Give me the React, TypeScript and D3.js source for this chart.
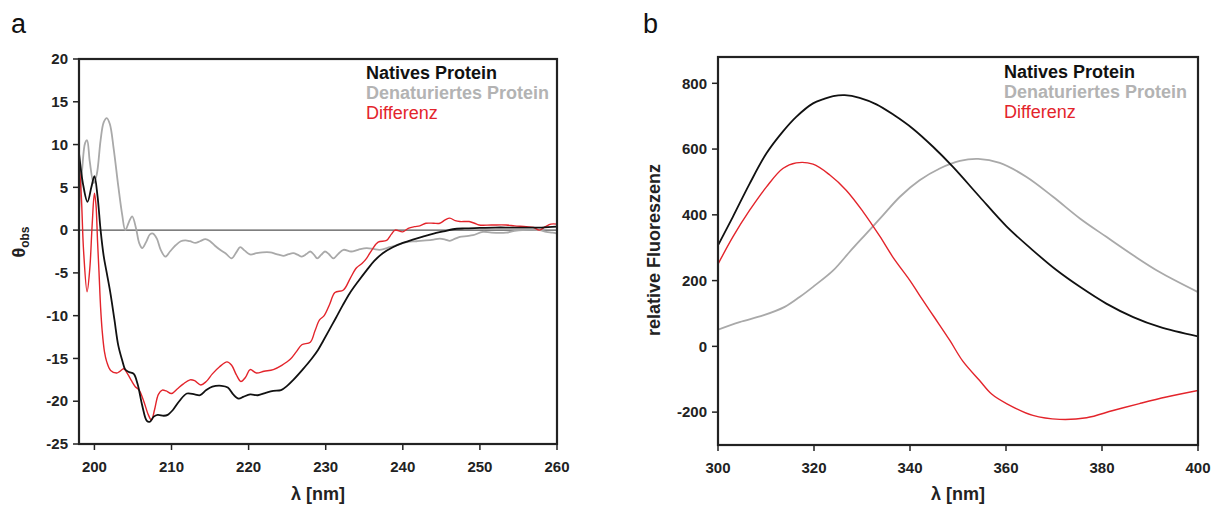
import React from "react";
import * as d3 from "d3";

// ---------- Data: CD spectrum (panel a) ----------
const cdNative: [number, number][] = [
  [198, 9.0], [198.5, 5.5], [199.1, 3.3], [199.6, 5.0], [200.0, 6.3], [200.4, 4.0], [200.8, 0], [201.2, -3.0],
  [201.6, -5.0], [202.1, -7.5], [202.6, -10.5], [203.1, -13.5], [203.6, -15.2], [204.0, -16.3], [204.5, -16.6],
  [205.1, -16.8], [205.6, -18.0], [206.2, -20.5], [206.8, -22.3], [207.2, -22.4], [207.7, -21.8], [208.2, -21.6],
  [209.0, -21.7], [209.5, -21.6], [210.2, -21.0], [211.0, -20.0], [212.0, -19.1], [213.0, -19.2], [213.7, -19.3],
  [214.5, -18.7], [215.3, -18.3], [216.5, -18.2], [217.3, -18.4], [218.0, -19.2], [218.7, -19.7], [219.3, -19.5],
  [220.2, -19.2], [221.2, -19.3], [222.3, -19.0], [223.2, -18.8], [224.2, -18.7], [225.0, -18.2], [225.8, -17.5],
  [227.0, -16.3], [228.2, -15.0], [229.0, -14.0], [229.7, -12.9], [230.5, -11.6], [231.3, -10.3], [232.2, -8.8],
  [233.1, -7.4], [234.2, -6.0], [235.3, -4.7], [236.3, -3.6], [237.4, -2.7], [238.7, -2.0], [240.0, -1.5],
  [241.3, -1.1], [242.6, -0.75], [244.0, -0.4], [245.3, -0.15], [246.5, 0.1], [248, 0.2], [250, 0.25], [252, 0.3],
  [254, 0.3], [256, 0.3], [258, 0.3], [260, 0.4],
];

const cdDenatured: [number, number][] = [
  [198, 2.0], [198.4, 7.0], [198.8, 10.2], [199.05, 10.5], [199.4, 8.0], [199.9, 5.5], [200.3, 6.5], [200.8, 10.5],
  [201.2, 12.6], [201.6, 13.1], [202.0, 12.4], [202.5, 9.5], [203.1, 5.1], [203.6, 1.8], [204.0, 0.0], [204.5, 1.0],
  [204.9, 1.6], [205.4, 0.2], [205.8, -1.5], [206.2, -2.1], [206.7, -1.4], [207.2, -0.5], [207.6, -0.4], [208.1, -1.0],
  [208.6, -2.3], [209.2, -3.1], [209.8, -2.5], [210.5, -1.8], [211.2, -1.3], [211.8, -1.2], [212.4, -1.3], [213.1, -1.5],
  [213.7, -1.3], [214.4, -1.05], [215.0, -1.3], [215.6, -1.8], [216.3, -2.3], [217.0, -2.7], [217.8, -3.3], [218.4, -2.6],
  [218.9, -2.0], [219.5, -2.4], [220.2, -2.85], [221.0, -2.7], [221.8, -2.6], [222.8, -2.6], [223.6, -2.8], [224.5, -3.0],
  [225.2, -2.8], [225.8, -2.7], [226.4, -2.9], [226.9, -3.1], [227.5, -2.8], [228.0, -2.5], [228.5, -2.9], [228.9, -3.3],
  [229.4, -2.9], [229.9, -2.5], [230.4, -2.8], [231.0, -3.3], [231.6, -2.8], [232.3, -2.3], [233.3, -2.5], [234.2, -2.3],
  [235.3, -2.1], [236.2, -2.2], [237.0, -2.3], [238.3, -2.0], [239.4, -1.7], [240.5, -1.4], [241.8, -1.3], [243.0, -1.2],
  [244.0, -1.1], [244.8, -1.0], [245.5, -1.1], [246.1, -1.25], [246.8, -1.0], [247.4, -0.8], [248.3, -0.7], [249.1, -0.6],
  [250.4, -0.2], [251.5, -0.3], [253.4, -0.3], [254.5, -0.1], [255.5, 0.0], [257.7, 0.0], [258.6, -0.2], [259.4, -0.3],
  [260, -0.4],
];

const cdDifference: [number, number][] = [
  [198, 8.0], [198.3, 4.0], [198.6, -2.5], [199.05, -7.2], [199.4, -4.5], [199.7, 0.5], [200.0, 4.3], [200.2, 3.0],
  [200.4, -1.2], [200.6, -5.0], [200.8, -9.0], [201.0, -11.7], [201.3, -14.2], [201.6, -15.4], [202.1, -16.4],
  [202.9, -16.7], [203.3, -16.5], [203.8, -16.2], [204.3, -16.8], [204.8, -17.6], [205.3, -18.3], [205.8, -18.7],
  [206.4, -20.0], [207.0, -21.6], [207.4, -22.2], [207.8, -21.0], [208.3, -19.2], [208.8, -18.7], [209.3, -18.8],
  [210.0, -19.1], [210.7, -18.6], [211.5, -18.0], [212.4, -17.5], [213.0, -17.6], [213.8, -18.1], [214.5, -17.7],
  [215.3, -16.8], [216.2, -16.0], [217.2, -15.4], [217.8, -15.8], [218.4, -16.9], [219.0, -17.7], [219.6, -17.2],
  [220.2, -16.3], [221.0, -16.7], [222.0, -16.5], [223.2, -16.3], [224.3, -15.8], [225.4, -15.1], [226.2, -14.2],
  [226.9, -13.4], [228.0, -13.1], [228.6, -11.8], [229.2, -10.5], [229.8, -10.0], [230.5, -8.7], [231.2, -7.3],
  [232.3, -7.0], [233.2, -5.6], [234.0, -4.4], [234.7, -3.9], [235.3, -3.3], [236.0, -2.3], [236.8, -1.4],
  [237.9, -1.2], [238.5, -0.5], [239.0, 0.0], [240.0, -0.2], [240.7, 0.2], [241.5, 0.4], [242.2, 0.5], [243.0, 0.8],
  [244.0, 0.8], [244.8, 0.8], [245.5, 1.2], [246.1, 1.4], [246.8, 1.1], [247.4, 1.0], [248.6, 1.0], [249.3, 0.8],
  [249.9, 0.6], [251.5, 0.6], [253.4, 0.6], [254.5, 0.5], [256, 0.4], [257, 0.3], [257.7, 0.0], [258.5, 0.4],
  [259.2, 0.7], [260, 0.7],
];

// ---------- Data: fluorescence spectrum (panel b) ----------
const flNative: [number, number][] = [
  [300, 307], [303.1, 394], [306.6, 495], [310.1, 587], [313.5, 653], [316.3, 698], [319.8, 739], [322, 752],
  [324, 761], [326.4, 764], [329.5, 756], [333, 736], [336.5, 705], [340.6, 662], [344.8, 607], [349, 545],
  [354.5, 455], [360.1, 365], [365.6, 292], [370.5, 232], [375.4, 181], [380.9, 130], [386.5, 89], [392, 59],
  [400, 30],
];

const flDenatured: [number, number][] = [
  [300, 51], [304.5, 74], [309.4, 94], [313.9, 120], [317, 150], [319.8, 181], [324, 231], [327.4, 287],
  [330.9, 343], [334.4, 399], [337.9, 455], [342, 505], [346.2, 541], [350.4, 564], [354.2, 570], [358.7, 558],
  [364.2, 516], [369.8, 455], [375.4, 389], [380.9, 333], [386.5, 277], [392, 226], [400, 165],
];

const flDifference: [number, number][] = [
  [300, 250], [303.1, 333], [306.6, 414], [310.1, 485], [313.5, 541], [316.3, 558], [319.8, 554], [323.3, 521],
  [326.7, 475], [330.2, 410], [333.7, 335], [336.5, 270], [340, 200], [342, 155], [345, 90], [348.3, 18],
  [351, -45], [354.5, -104], [357, -145], [360.1, -174], [365.6, -210], [371.2, -222], [376.8, -217],
  [382.3, -195], [387.8, -174], [393.4, -154], [400, -134],
];

// ---------- Ticks & labels ----------
const cdXTicks = [200, 210, 220, 230, 240, 250, 260];
const cdYTicks = [-25, -20, -15, -10, -5, 0, 5, 10, 15, 20];
const flXTicks = [300, 320, 340, 360, 380, 400];
const flYTicks = [-200, 0, 200, 400, 600, 800];
const legendLabels = ["Natives Protein", "Denaturiertes Protein", "Differenz"];
const seriesColors = ["#111111", "#a9a9a9", "#e3242b"];

const FONT = "'Liberation Sans', Arial, Helvetica, sans-serif";

type PanelProps = {
  x0: number; x1: number; y0: number; y1: number;
  xDomain: [number, number]; yDomain: [number, number];
  xTicks: number[]; yTicks: number[];
  series: [number, number][][];
  zeroLine: boolean;
  legendX: number; legendY: number;
  curve: d3.CurveFactory;
};

function Panel(p: PanelProps) {
  const x = d3.scaleLinear().domain(p.xDomain).range([p.x0, p.x1]);
  const y = d3.scaleLinear().domain(p.yDomain).range([p.y1, p.y0]);
  const line = d3.line<[number, number]>().x((d) => x(d[0])).y((d) => y(d[1])).curve(p.curve);
  const clipId = `clip-${p.x0}`;
  return (
    <g>
      <defs>
        <clipPath id={clipId}>
          <rect x={p.x0} y={p.y0} width={p.x1 - p.x0} height={p.y1 - p.y0} />
        </clipPath>
      </defs>
      {p.zeroLine && (
        <line x1={p.x0} x2={p.x1} y1={y(0)} y2={y(0)} stroke="#555" strokeWidth={1.3} />
      )}
      <g clipPath={`url(#${clipId})`}>
        {[1, 2, 0].map((i) => (
          <path key={i} d={line(p.series[i]) || ""} fill="none" stroke={seriesColors[i]}
            strokeWidth={i === 2 ? 1.4 : 1.8} strokeLinejoin="round" />
        ))}
      </g>
      <rect x={p.x0} y={p.y0} width={p.x1 - p.x0} height={p.y1 - p.y0} fill="none" stroke="#222" strokeWidth={2.2} />
      {p.yTicks.map((t) => (
        <g key={`y${t}`}>
          <line x1={p.x0 - 6} x2={p.x0} y1={y(t)} y2={y(t)} stroke="#222" strokeWidth={1.5} />
          <text x={p.x0 - 11} y={y(t)} dy="0.35em" textAnchor="end" fontFamily={FONT} fontWeight="bold" fontSize={15} fill="#222">{t}</text>
        </g>
      ))}
      {p.xTicks.map((t) => (
        <g key={`x${t}`}>
          <line x1={x(t)} x2={x(t)} y1={p.y1} y2={p.y1 + 6} stroke="#222" strokeWidth={1.5} />
          <text x={x(t)} y={p.y1 + 28} textAnchor="middle" fontFamily={FONT} fontWeight="bold" fontSize={15} fill="#222">{t}</text>
        </g>
      ))}
      {legendLabels.map((l, i) => (
        <text key={l} x={p.legendX} y={p.legendY + i * 20} fontFamily={FONT} fontSize={18}
          fontWeight={i === 2 ? "normal" : "bold"} fill={i === 1 ? "#b3b3b3" : seriesColors[i]}>{l}</text>
      ))}
      <text x={(p.x0 + p.x1) / 2} y={500} textAnchor="middle" fontFamily={FONT} fontWeight="bold" fontSize={18} fill="#222">λ [nm]</text>
    </g>
  );
}

export default function App() {
  const curve = d3.curveCatmullRom.alpha(0.5);
  return (
    <svg width={1216} height={506} style={{ position: "absolute", left: 0, top: 0, background: "#fff" }}>
      <rect width={1216} height={506} fill="#fff" />
      <text x={11} y={33} fontFamily={FONT} fontSize={27} fill="#111">a</text>
      <text x={643} y={33} fontFamily={FONT} fontSize={27} fill="#111">b</text>
      <Panel x0={79} x1={557} y0={59} y1={444} xDomain={[198, 260]} yDomain={[-25, 20]}
        xTicks={cdXTicks} yTicks={cdYTicks} series={[cdNative, cdDenatured, cdDifference]} zeroLine={true}
        legendX={366} legendY={79} curve={curve} />
      <Panel x0={718} x1={1198} y0={57} y1={445} xDomain={[300, 400]} yDomain={[-300, 880]}
        xTicks={flXTicks} yTicks={flYTicks} series={[flNative, flDenatured, flDifference]} zeroLine={false}
        legendX={1004} legendY={78} curve={curve} />
      <text transform="translate(25,242) rotate(-90)" textAnchor="middle" fontFamily={FONT} fontWeight="bold" fontSize={18} fill="#222">
        θ<tspan fontSize={12} dy={4}>obs</tspan>
      </text>
      <text transform="translate(660,250) rotate(-90)" textAnchor="middle" fontFamily={FONT} fontWeight="bold" fontSize={18} fill="#222">relative Fluoreszenz</text>
    </svg>
  );
}
